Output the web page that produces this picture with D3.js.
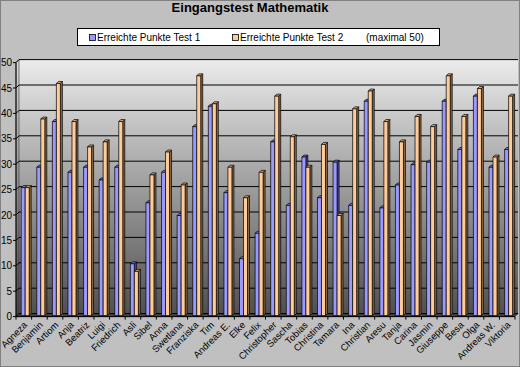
<!DOCTYPE html>
<html>
<head>
<meta charset="utf-8">
<script src="https://cdn.jsdelivr.net/npm/d3@7"></script>
<style>
  html, body { margin: 0; padding: 0; background: #c0c0c0; }
  svg { display: block; font-family: "Liberation Sans", Arial, sans-serif; }
</style>
</head>
<body>
<div id="chart"></div>
<script>
// chart data
var names = ["Agneza", "Benjamin", "Artiom", "Anja", "Beatriz", "Luigi", "Friedrich", "Asli",
  "Sibel", "Anna", "Swetlana", "Franziska", "Tim", "Andreas E.", "Elke", "Felix",
  "Christopher", "Sascha", "Tobias", "Christina", "Tamara", "Ina", "Christian", "Aresu",
  "Tanja", "Carina", "Jasmin", "Giuseppe", "Besa", "Olga", "Andreas W.", "Viktoria"]
var test1 = [25, 29, 38, 28, 29, 26.5, 29, 10,
  22, 28, 19.5, 37, 41, 24, 11, 16,
  34, 21.5, 31, 23, 30, 21.5, 42, 21,
  25.5, 29.5, 30, 42, 32.5, 43, 29, 32.5]
var test2 = [25, 38.5, 45.5, 38, 33, 34, 38, 8.5,
  27.5, 32, 25.5, 47, 41.5, 29, 23, 28,
  43, 35, 29, 33.5, 19.5, 40.5, 44, 38,
  34, 39, 37, 47, 39, 44.5, 31, 43]
var yTicks = [0, 5, 10, 15, 20, 25, 30, 35, 40, 45, 50]
var seriesNames = ["Erreichte Punkte Test 1", "Erreichte Punkte Test 2"]

var W = 520, H = 367
var depth = 3     // 3d offset of back wall
var barDepth = 2  // 3d offset of bar sides

var svg = d3.select('#chart').append('svg')
    .attr('width', W).attr('height', H)

svg.append('rect')
    .attr('x', 0.5).attr('y', 0.5)
    .attr('width', W - 1).attr('height', H - 1)
    .attr('fill', '#c0c0c0').attr('stroke', '#808080')

var defs = svg.append('defs')
var grad = defs.append('linearGradient').attr('id', 'wall')
    .attr('x1', 0).attr('y1', 0).attr('x2', 0).attr('y2', 1)
grad.append('stop').attr('offset', '0%').attr('stop-color', '#ebebeb')
grad.append('stop').attr('offset', '100%').attr('stop-color', '#505050')
var grad2 = defs.append('linearGradient').attr('id', 'sidewall')
    .attr('x1', 0).attr('y1', 0).attr('x2', 0).attr('y2', 1)
grad2.append('stop').attr('offset', '0%').attr('stop-color', '#d8d8d8')
grad2.append('stop').attr('offset', '100%').attr('stop-color', '#444')

// scales (front plane)
var x = d3.scaleBand().domain(names).range([16, 515])
var y = d3.scaleLinear().domain([0, 50]).range([316.6, 62.6])

var left = x.range()[0], right = x.range()[1]
var y0 = y(0), yTop = y(50)

// back wall
svg.append('rect')
    .attr('x', left + depth).attr('y', yTop - depth)
    .attr('width', right - left).attr('height', y0 - yTop)
    .attr('fill', 'url(#wall)')

// left side wall
svg.append('path')
    .attr('d', 'M' + left + ',' + yTop + 'L' + (left + depth) + ',' + (yTop - depth) +
      'L' + (left + depth) + ',' + (y0 - depth) + 'L' + left + ',' + y0 + 'Z')
    .attr('fill', 'url(#sidewall)').attr('stroke', '#333').attr('stroke-width', 0.6)

// floor
svg.append('path')
    .attr('d', 'M' + left + ',' + y0 + 'L' + (left + depth) + ',' + (y0 - depth) +
      'L' + (right + depth) + ',' + (y0 - depth) + 'L' + right + ',' + y0 + 'Z')
    .attr('fill', '#444').attr('stroke', '#222').attr('stroke-width', 0.6)

// gridlines on back + side wall
var grid = svg.append('g')
grid.selectAll('path').data(yTicks).enter().append('path')
    .attr('d', function(d) {
      return 'M' + left + ',' + y(d) + 'L' + (left + depth) + ',' + (y(d) - depth) +
        'L' + (right + depth) + ',' + (y(d) - depth)
    })
    .attr('fill', 'none').attr('stroke', '#000').attr('stroke-width', 1)

// bars
var colors = { face: ['#9999ff', '#ffcc99'], side: ['#4d4d99', '#8c6a48'], top: ['#7777cc', '#d9a878'] }
var bw = 4
var offs = [5.2, 9.2]

function barPath(x1, v) {
  var yt = y(v) - depth + 1, yb = y0 - 1
  return {
    face: 'M' + x1 + ',' + yt + 'h' + bw + 'V' + yb + 'h' + (-bw) + 'Z',
    side: 'M' + (x1 + bw) + ',' + yt + 'l' + barDepth + ',' + (-barDepth) +
      'V' + (yb - barDepth) + 'l' + (-barDepth) + ',' + barDepth + 'Z',
    top: 'M' + x1 + ',' + yt + 'l' + barDepth + ',' + (-barDepth) + 'h' + bw +
      'l' + (-barDepth) + ',' + barDepth + 'Z'
  }
}

var bars = svg.append('g')
names.forEach(function(n, i) {
  [test1[i], test2[i]].forEach(function(v, s) {
    var p = barPath(x(n) + offs[s], v)
    var g = bars.append('g')
    g.append('path').attr('d', p.side).attr('fill', colors.side[s])
        .attr('stroke', '#000').attr('stroke-width', 0.7)
    g.append('path').attr('d', p.top).attr('fill', colors.top[s])
        .attr('stroke', '#000').attr('stroke-width', 0.7)
    g.append('path').attr('d', p.face).attr('fill', colors.face[s])
        .attr('stroke', '#000').attr('stroke-width', 0.7)
  })
})

// y axis
var yAxis = svg.append('g')
yAxis.append('line')
    .attr('x1', left).attr('x2', left).attr('y1', yTop).attr('y2', y0)
    .attr('stroke', '#000')
yAxis.selectAll('line.tick').data(yTicks).enter().append('line')
    .attr('class', 'tick')
    .attr('x1', left - 3).attr('x2', left)
    .attr('y1', function(d) { return y(d) }).attr('y2', function(d) { return y(d) })
    .attr('stroke', '#000')
yAxis.selectAll('text').data(yTicks).enter().append('text')
    .attr('x', left - 4).attr('y', function(d) { return y(d) + 3.5 })
    .attr('text-anchor', 'end').attr('font-size', 10)
    .text(function(d) { return d })

// x axis
var xAxis = svg.append('g')
xAxis.append('line')
    .attr('x1', left).attr('x2', right).attr('y1', y0).attr('y2', y0)
    .attr('stroke', '#000')
xAxis.selectAll('line.tick').data(names.concat(['_end'])).enter().append('line')
    .attr('class', 'tick')
    .attr('x1', function(d, i) { return left + i * x.bandwidth() })
    .attr('x2', function(d, i) { return left + i * x.bandwidth() })
    .attr('y1', y0).attr('y2', y0 + 3)
    .attr('stroke', '#000')
xAxis.selectAll('text').data(names).enter().append('text')
    .attr('transform', function(d) {
      return 'translate(' + (x(d) + x.bandwidth() / 2 + 4) + ',' + (y0 + 9) + ') rotate(-45)'
    })
    .attr('text-anchor', 'end').attr('font-size', 9.5)
    .text(function(d) { return d })

// title
svg.append('text')
    .attr('x', 250).attr('y', 12)
    .attr('text-anchor', 'middle').attr('font-size', 13).attr('font-weight', 'bold')
    .text('Eingangstest Mathematik')

// legend
var legend = svg.append('g')
legend.append('rect')
    .attr('x', 77.5).attr('y', 28.5).attr('width', 362).attr('height', 17)
    .attr('fill', '#fff').attr('stroke', '#000')
var legX = [89, 232]
seriesNames.forEach(function(s, i) {
  legend.append('rect')
      .attr('x', legX[i] + 0.5).attr('y', 34.5).attr('width', 6).attr('height', 6)
      .attr('fill', colors.face[i]).attr('stroke', '#000').attr('stroke-width', 0.8)
  legend.append('text')
      .attr('x', legX[i] + 8).attr('y', 41)
      .attr('font-size', 10)
      .text(s)
})
legend.append('text')
    .attr('x', 366).attr('y', 41).attr('font-size', 10)
    .text('(maximal 50)')
</script>
</body>
</html>
